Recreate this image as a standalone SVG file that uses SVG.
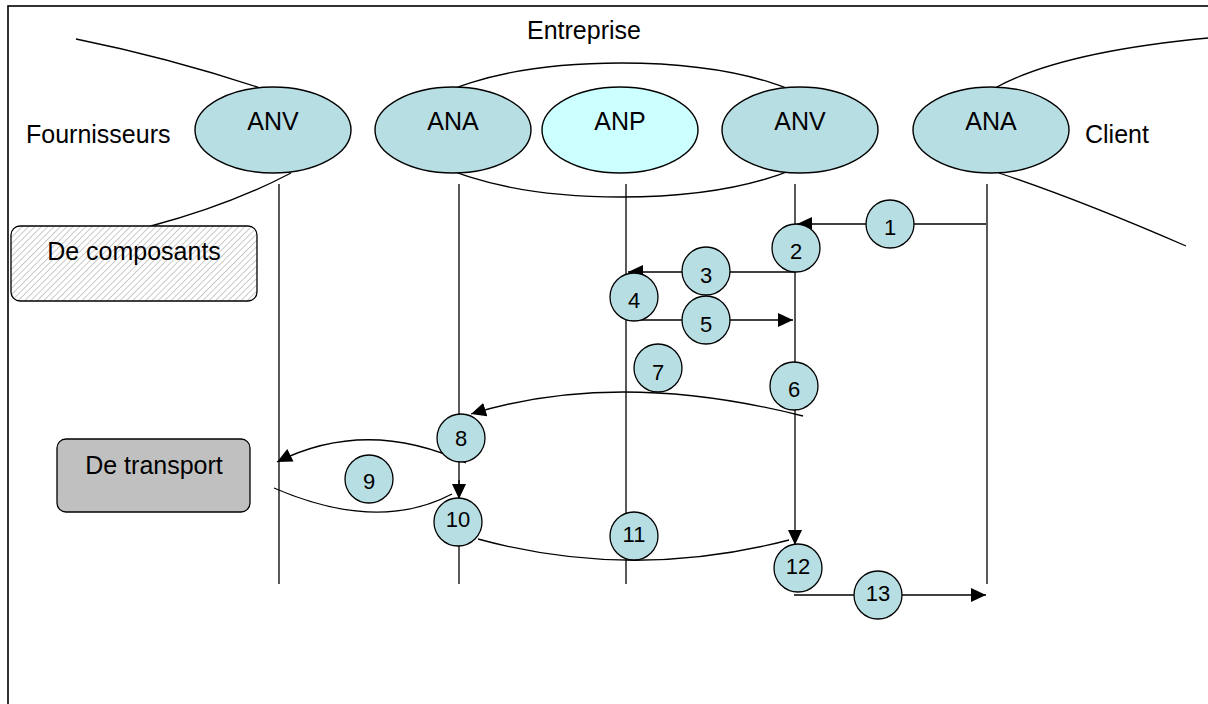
<svg xmlns="http://www.w3.org/2000/svg" width="1208" height="704" viewBox="0 0 1208 704">
<style>
.ln{fill:none;stroke:#000;stroke-width:1.3}
.arr{fill:none;stroke:#000;stroke-width:1.3;marker-end:url(#arrow)}
.nodeE{fill:#b7dee3;stroke:#000;stroke-width:1.4}
.circ{fill:#b7dee3;stroke:#000;stroke-width:1.3}
.lbl{font-family:"Liberation Sans",Arial,sans-serif;font-size:25px;fill:#000}
.num{font-family:"Liberation Sans",Arial,sans-serif;font-size:22px;fill:#000;text-anchor:middle}
.mid{text-anchor:middle}
</style>
<defs>
<marker id="arrow" markerUnits="userSpaceOnUse" markerWidth="16" markerHeight="14" viewBox="0 0 16 14" refX="15" refY="7" orient="auto">
<path d="M0 0 L15 7 L0 14 Z" fill="#000"/>
</marker>
<pattern id="hatch" width="4.5" height="4.5" patternUnits="userSpaceOnUse" patternTransform="rotate(45)">
<rect width="4.5" height="4.5" fill="#fff"/>
<line x1="0" y1="0" x2="0" y2="4.5" stroke="#a8a8a8" stroke-width="1.2"/>
</pattern>
</defs>
<rect width="1208" height="704" fill="#fff"/>
<rect x="8" y="6" width="1400" height="900" fill="none" stroke="#000" stroke-width="1.6"/>

<g id="boundaries" class="ln">
<path d="M76 39 Q170 58 260 88"/>
<path d="M291 173 Q230 205 151 226"/>
<path d="M995 88 Q1060 52 1208 38"/>
<path d="M999 173 Q1080 200 1186 246"/>
<ellipse id="entreprise-zone" cx="621" cy="130" rx="212" ry="67"/>
</g>

<g id="labels">
<text class="lbl mid" x="584" y="39">Entreprise</text>
<text class="lbl" x="26" y="143">Fournisseurs</text>
<text class="lbl" x="1085" y="143">Client</text>
</g>

<g id="anv-fournisseur"><ellipse class="nodeE" cx="273" cy="130" rx="78" ry="43"/><text class="lbl mid" x="273" y="130">ANV</text></g>
<g id="ana-entreprise"><ellipse class="nodeE" cx="453" cy="130" rx="78" ry="43"/><text class="lbl mid" x="453" y="130">ANA</text></g>
<g id="anp-entreprise"><ellipse cx="620" cy="130" rx="78" ry="43" fill="#ccffff" stroke="#000" stroke-width="1.4"/><text class="lbl mid" x="620" y="130">ANP</text></g>
<g id="anv-entreprise"><ellipse class="nodeE" cx="800" cy="130" rx="78" ry="43"/><text class="lbl mid" x="800" y="130">ANV</text></g>
<g id="ana-client"><ellipse class="nodeE" cx="991" cy="130" rx="78" ry="43"/><text class="lbl mid" x="991" y="130">ANA</text></g>

<g id="de-composants"><rect x="11" y="226" width="246" height="75" rx="9" fill="url(#hatch)" stroke="#000" stroke-width="1.3"/><text class="lbl mid" x="134" y="260">De composants</text></g>
<g id="de-transport"><rect x="57" y="439" width="193" height="73" rx="9" fill="#c0c0c0" stroke="#000" stroke-width="1.3"/><text class="lbl mid" x="154" y="474">De transport</text></g>

<g id="connectors">
<path class="ln" d="M279 184 V584"/>
<path class="ln" d="M459 184 V584"/>
<path class="ln" d="M626 184 V584"/>
<path class="arr" d="M795 184 V545"/>
<path class="ln" d="M987 184 V584"/>
<path class="arr" d="M986 224 H797"/>
<path class="arr" d="M795 272 H628"/>
<path class="arr" d="M627 320 H793"/>
<path class="arr" d="M803 416 Q617 369 471 414"/>
<path class="arr" d="M466 463 Q367 417 277 462"/>
<path class="ln" d="M274 488 Q378 533 452 494"/>
<path class="arr" d="M459 480 V499"/>
<path class="ln" d="M478 539 Q632 581 789 540"/>
<path class="arr" d="M794 595 H986"/>
</g>

<g id="steps">
<g id="step-1"><circle class="circ" cx="890" cy="224" r="24"/><text class="num" x="890" y="235">1</text></g>
<g id="step-2"><circle class="circ" cx="796" cy="248" r="24"/><text class="num" x="796" y="259">2</text></g>
<g id="step-3"><circle class="circ" cx="706" cy="271" r="24"/><text class="num" x="706" y="283">3</text></g>
<g id="step-4"><circle class="circ" cx="634" cy="297" r="24"/><text class="num" x="634" y="308">4</text></g>
<g id="step-5"><circle class="circ" cx="706" cy="320" r="24"/><text class="num" x="706" y="332">5</text></g>
<g id="step-6"><circle class="circ" cx="794" cy="386" r="24"/><text class="num" x="794" y="397">6</text></g>
<g id="step-7"><circle class="circ" cx="658" cy="368" r="24"/><text class="num" x="658" y="380">7</text></g>
<g id="step-8"><circle class="circ" cx="461" cy="438" r="24"/><text class="num" x="461" y="446">8</text></g>
<g id="step-9"><circle class="circ" cx="369" cy="479" r="24"/><text class="num" x="369" y="489">9</text></g>
<g id="step-10"><circle class="circ" cx="458" cy="522" r="24"/><text class="num" x="458" y="527">10</text></g>
<g id="step-11"><circle class="circ" cx="634" cy="536" r="24"/><text class="num" x="634" y="542">11</text></g>
<g id="step-12"><circle class="circ" cx="798" cy="568" r="24"/><text class="num" x="798" y="574">12</text></g>
<g id="step-13"><circle class="circ" cx="878" cy="595" r="24"/><text class="num" x="878" y="601">13</text></g>
</g>
</svg>
